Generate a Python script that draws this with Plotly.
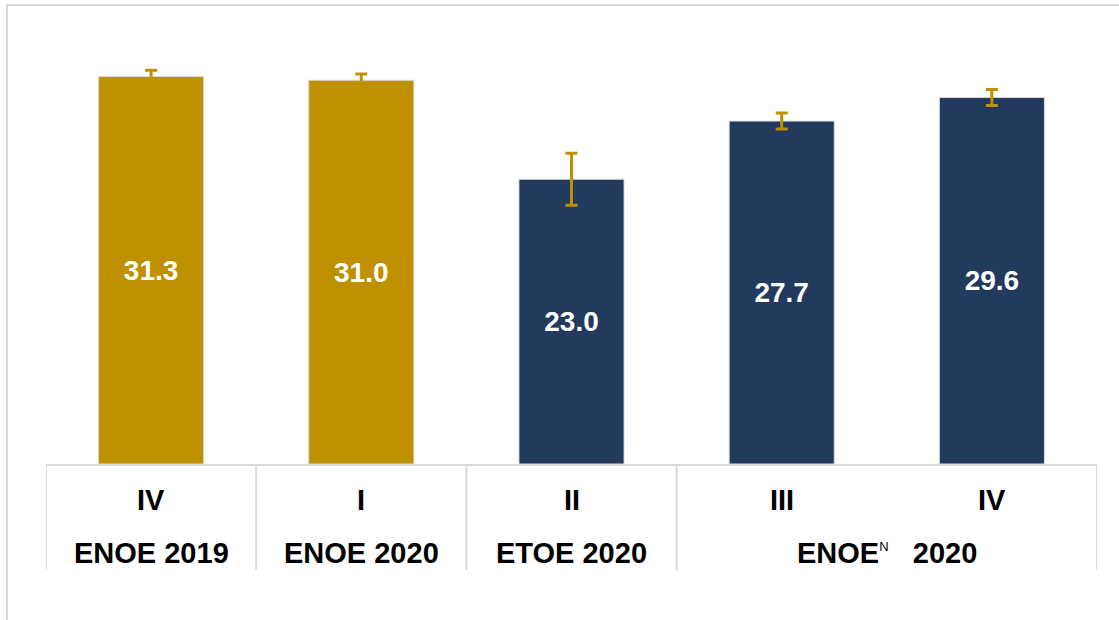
import plotly.graph_objects as go

quarters = ["IV", "I", "II", "III", "IV"]
surveys = ["ENOE 2019", "ENOE 2020", "ETOE 2020", "ENOE<sup><span style='font-size:13px;font-weight:normal'>N</span></sup>&nbsp;&nbsp;&nbsp;2020"]
values = [31.3, 31.0, 23.0, 27.7, 29.6]
errors = [0.5, 0.5, 2.1, 0.65, 0.65]
GOLD = "#BF9000"
NAVY = "#223A5E"
bar_colors = [GOLD, GOLD, NAVY, NAVY, NAVY]

x = list(range(len(values)))
FONT = "Liberation Sans, Arial, sans-serif"

fig = go.Figure()
fig.add_trace(go.Bar(
    x=x, y=values,
    marker=dict(color=bar_colors, line=dict(color="#d8d8d8", width=1)),
    error_y=dict(type="data", array=errors, visible=True, color=GOLD, thickness=3, width=6),
    text=[f"{v:.1f}" for v in values],
    textposition="inside", insidetextanchor="middle",
    textfont=dict(color="white", size=28, family=FONT, weight="bold"),
    hoverinfo="skip",
))

W, H = 1119, 620
ml, mr, mt, mb = 46, 22, 20, 156
ph = H - mt - mb
def py(pix):
    # convert pixel y (from top) to paper coordinate
    return (H - mb - pix) / ph

shapes = []
# frame around the chart (left and top visible)
shapes.append(dict(type="rect", xref="paper", yref="paper",
                   x0=(7 - ml) / (W - ml - mr), x1=1.2, y0=-0.6, y1=py(5),
                   line=dict(color="#d9d9d9", width=2), layer="below"))
# category table separators
for b in [-0.5, 0.5, 1.5, 2.5, 4.5]:
    shapes.append(dict(type="line", xref="x", yref="paper", x0=b, x1=b,
                       y0=0, y1=py(570), line=dict(color="#d9d9d9", width=2)))

annotations = []
for i, q in enumerate(quarters):
    annotations.append(dict(x=i, y=py(500), xref="x", yref="paper", text=q,
                            xanchor="center", yanchor="middle",
                            showarrow=False, font=dict(size=29, family=FONT, color="black", weight="bold")))
survey_pos = [0, 1, 2, 3.5]
for p, s in zip(survey_pos, surveys):
    annotations.append(dict(x=p, y=py(553), xref="x", yref="paper", text=s,
                            xanchor="center", yanchor="middle",
                            showarrow=False, font=dict(size=29, family=FONT, color="black", weight="bold")))

fig.update_layout(
    width=W, height=H,
    margin=dict(l=ml, r=mr, t=mt, b=mb),
    paper_bgcolor="white", plot_bgcolor="white",
    bargap=0.5, showlegend=False,
    xaxis=dict(range=[-0.5, 4.5], showticklabels=False, ticks="", showgrid=False,
               showline=True, linecolor="#d9d9d9", linewidth=2, zeroline=False, fixedrange=True),
    yaxis=dict(range=[0, ph / 12.38], visible=False, fixedrange=True),
    shapes=shapes, annotations=annotations,
)

fig.write_html("out.html", config={"displayModeBar": False},
               post_script="document.body.style.margin='0';")
